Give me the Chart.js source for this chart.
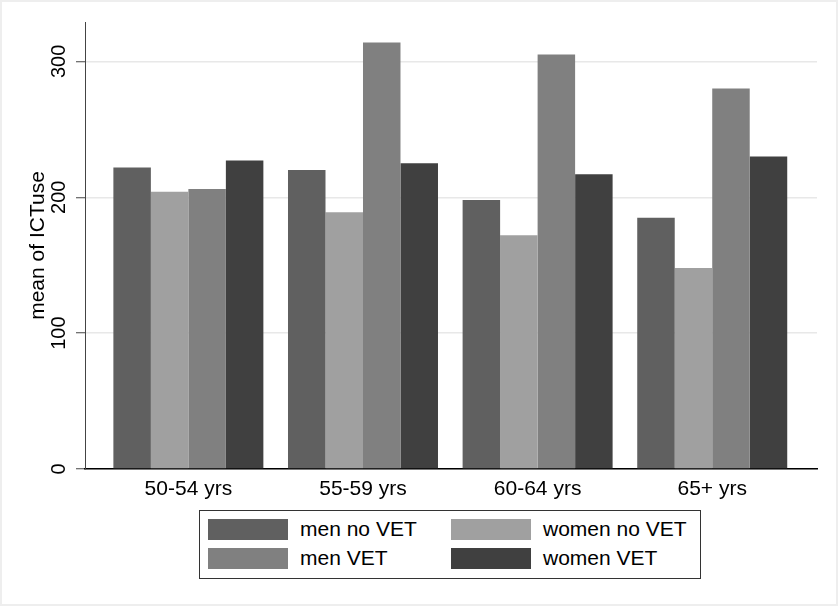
<!DOCTYPE html>
<html>
<head>
<meta charset="utf-8">
<script src="https://cdn.jsdelivr.net/npm/chart.js@4"></script>
<style>
  html, body { margin: 0; padding: 0; background: #fff; }
  #wrap { position: relative; width: 838px; height: 606px; font-family: "Liberation Sans", Arial, sans-serif; }
  #frame { position: absolute; left: 0; top: 0; width: 838px; height: 606px; box-sizing: border-box; border: 2px solid #eeeeee; pointer-events: none; }
  #legend { position: absolute; left: 199px; top: 510px; width: 502px; height: 69px; box-sizing: border-box; border: 1px solid #333; background: #fff; }
  .item { position: absolute; height: 22px; font-size: 21px; line-height: 22px; color: #000; white-space: nowrap; }
  .sw { position: absolute; left: 0; top: 0; width: 80px; height: 21px; }
  .lab { position: absolute; left: 92px; top: -1px; }
</style>
</head>
<body>
<div id="wrap">
  <canvas id="chart" width="838" height="606"></canvas>
  <div id="legend"></div>
  <div id="frame"></div>
</div>
<script>
const ageGroups = ['50-54 yrs', '55-59 yrs', '60-64 yrs', '65+ yrs']
const menNoVet = [222, 220, 198, 185]
const womenNoVet = [204, 189, 172, 148]
const menVet = [206, 314, 305, 280]
const womenVet = [227, 225, 217, 230]
const seriesNames = ['men no VET', 'women no VET', 'men VET', 'women VET']
const seriesColors = ['#606060', '#a0a0a0', '#808080', '#404040']
const yTicks = [0, 100, 200, 300]

const ctx = document.querySelector('#chart').getContext('2d')
Chart.defaults.font.family = '"Liberation Sans", Arial, sans-serif'

function toPoints(values) {
  return values.map((v, i) => ({ x: i, y: v }))
}

const allSeries = [menNoVet, womenNoVet, menVet, womenVet]

const chart = new Chart(ctx, {
  type: 'bar',
  data: {
    datasets: allSeries.map((vals, i) => ({
      label: seriesNames[i],
      data: toPoints(vals),
      backgroundColor: seriesColors[i],
      borderWidth: 0,
      categoryPercentage: 0.859,
      barPercentage: 1
    }))
  },
  options: {
    responsive: false,
    animation: false,
    layout: { padding: { left: 0, top: 22, right: 21, bottom: 0 } },
    plugins: { legend: { display: false }, tooltip: { enabled: false } },
    scales: {
      x: {
        type: 'linear',
        offset: false,
        min: -0.592,
        max: 3.6,
        grid: { display: false, drawTicks: false, offset: false },
        border: { color: '#000', width: 1.5 },
        afterBuildTicks: s => { s.ticks = ageGroups.map((c, i) => ({ value: i })) },
        ticks: {
          autoSkip: false,
          maxRotation: 0,
          padding: 8,
          color: '#000',
          font: { size: 21 },
          callback: v => ageGroups[v] || ''
        },
        afterFit: s => { s.height = 137 }
      },
      y: {
        min: 0,
        max: 329,
        grid: { color: '#e8e8e8', lineWidth: 1.5, tickLength: 9, tickColor: '#444', tickWidth: 1 },
        border: { color: '#444', width: 1 },
        afterBuildTicks: s => { s.ticks = yTicks.map(v => ({ value: v })) },
        ticks: {
          minRotation: 90,
          maxRotation: 90,
          crossAlign: 'center',
          padding: 0,
          color: '#000',
          font: { size: 20 }
        },
        title: {
          display: true,
          text: 'mean of ICTuse',
          color: '#000',
          font: { size: 21 },
          padding: { top: 26, bottom: 0 }
        },
        afterFit: s => { s.width = 85 }
      }
    }
  }
})

// legend, 2 columns like the original
const legendBox = document.querySelector('#legend')
const spots = [[8, 8], [251, 8], [8, 37], [251, 37]]
seriesNames.forEach((name, i) => {
  const item = document.createElement('div')
  item.className = 'item'
  item.style.left = spots[i][0] + 'px'
  item.style.top = spots[i][1] + 'px'
  item.innerHTML = '<div class="sw" style="background:' + seriesColors[i] + '"></div><span class="lab">' + name + '</span>'
  legendBox.appendChild(item)
})
</script>
</body>
</html>
